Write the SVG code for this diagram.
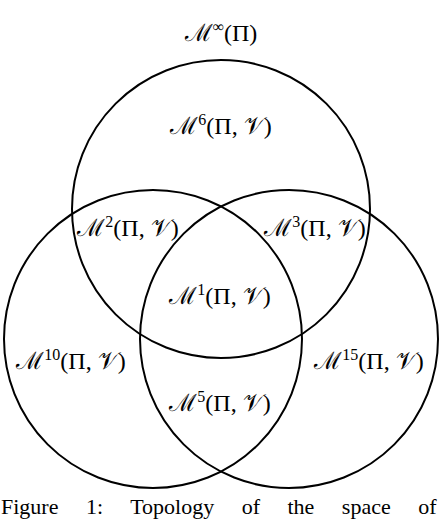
<svg xmlns="http://www.w3.org/2000/svg" width="442" height="520" viewBox="0 0 442 520">
<style>
.c{fill:none;stroke:#000;stroke-width:2}
.t{font-family:"Liberation Serif","DejaVu Serif",serif;font-size:24px;fill:#000;text-anchor:middle}
.s{font-size:16px}
.cap{font-family:"Liberation Serif","DejaVu Serif",serif;font-size:22px;fill:#000;word-spacing:22px}
</style>
<rect width="442" height="520" fill="#fff"/>
<g id="connectors"></g>
<g id="circle-top"><circle class="c" cx="221" cy="209" r="149"/></g>
<g id="circle-left"><circle class="c" cx="153" cy="339" r="149"/></g>
<g id="circle-right"><circle class="c" cx="289" cy="339" r="149"/></g>
<g id="label-inf"><text class="t" x="221" y="41">ℳ<tspan class="s" dy="-9">∞</tspan><tspan dy="9">(Π)</tspan></text></g>
<g id="label-6"><text class="t" x="221" y="134">ℳ<tspan class="s" dy="-9">6</tspan><tspan dy="9">(Π, 𝒱)</tspan></text></g>
<g id="label-2"><text class="t" x="128" y="236">ℳ<tspan class="s" dy="-9">2</tspan><tspan dy="9">(Π, 𝒱)</tspan></text></g>
<g id="label-3"><text class="t" x="315" y="236">ℳ<tspan class="s" dy="-9">3</tspan><tspan dy="9">(Π, 𝒱)</tspan></text></g>
<g id="label-1"><text class="t" x="220" y="304">ℳ<tspan class="s" dy="-9">1</tspan><tspan dy="9">(Π, 𝒱)</tspan></text></g>
<g id="label-10"><text class="t" x="71" y="369">ℳ<tspan class="s" dy="-9">10</tspan><tspan dy="9">(Π, 𝒱)</tspan></text></g>
<g id="label-15"><text class="t" x="369" y="369">ℳ<tspan class="s" dy="-9">15</tspan><tspan dy="9">(Π, 𝒱)</tspan></text></g>
<g id="label-5"><text class="t" x="220" y="411">ℳ<tspan class="s" dy="-9">5</tspan><tspan dy="9">(Π, 𝒱)</tspan></text></g>
<g id="caption"><text class="cap" x="1" y="514">Figure 1: Topology of the space of</text></g>
</svg>
